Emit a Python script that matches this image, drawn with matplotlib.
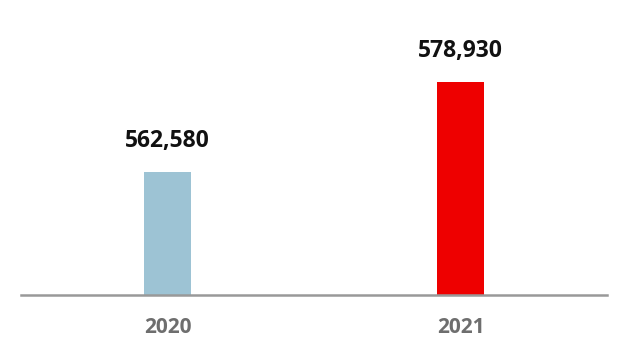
import matplotlib
matplotlib.use('Agg')
import matplotlib.pyplot as plt

years = ['2020', '2021']
values = [562580, 578930]
colors = ['#9dc3d4', '#ee0000']

plt.rcParams['font.family'] = ['Open Sans', 'DejaVu Sans']

fig = plt.figure(figsize=(6.26, 3.6), dpi=100)
ax = fig.add_axes([21 / 626, 1 - 295 / 360, 586 / 626, 295 / 360])

x = list(range(len(years)))
ax.bar(x, values, width=0.16, color=colors, zorder=2)
ax.set_xlim(-0.5, 1.5)
ax.set_ylim(540200, 593800)

for xi, v in zip(x, values):
    ax.text(xi, v + 3500, f'{v:,}', ha='center', va='bottom',
            fontsize=16.5, fontweight='bold', color='#111111')

for s in ['top', 'right', 'left']:
    ax.spines[s].set_visible(False)
ax.spines['bottom'].set_color('#999999')
ax.spines['bottom'].set_linewidth(1.8)
ax.set_yticks([])
ax.set_xticks(x)
ax.set_xticklabels(years, fontsize=15, fontweight='bold', color='#6e6e6e')
ax.tick_params(axis='x', length=0, pad=16)

fig.savefig('out.png', dpi=100)
